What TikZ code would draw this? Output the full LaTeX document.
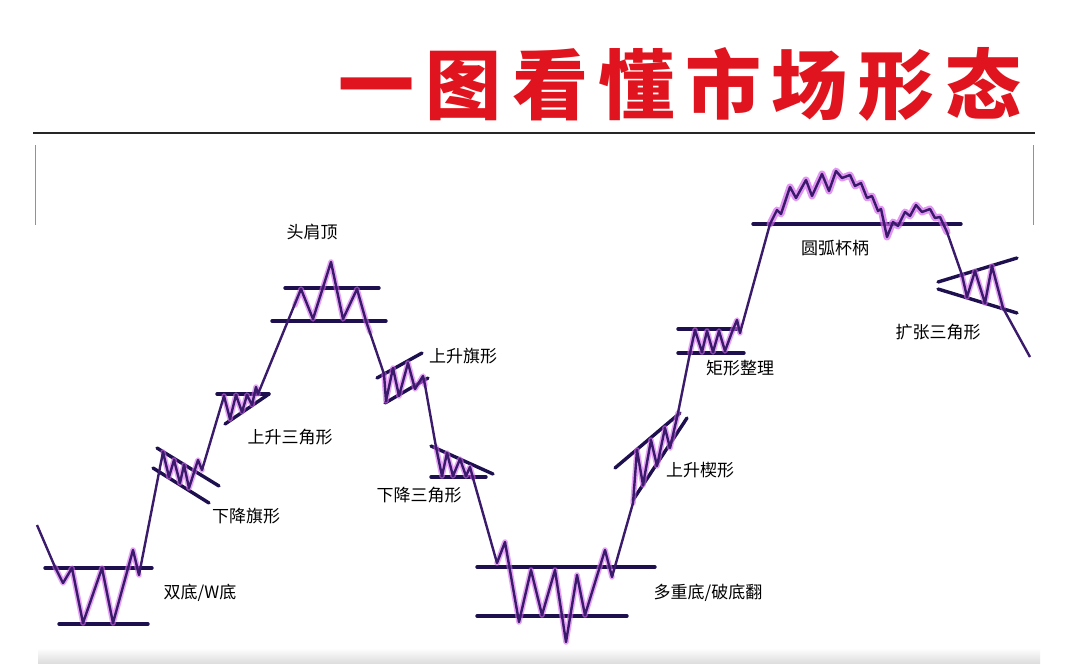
\documentclass[tikz,border=0pt]{standalone}
\usepackage{fontspec}
\newfontfamily\cjk{Noto Sans CJK SC}
\definecolor{titlered}{HTML}{E0141E}
\definecolor{barc}{HTML}{1E104E}
\definecolor{trendc}{HTML}{3A1A6A}
\definecolor{zigc}{HTML}{6A22AE}
\definecolor{glowc}{HTML}{D868F0}
\definecolor{olive}{HTML}{9A9A50}
\tikzset{
  bar/.style={draw=barc, line width=3.4pt, line cap=round},
  trend/.style={draw=trendc, line width=2.4pt, line join=round},
  glow/.style={draw=glowc, line width=5.5pt, opacity=0.6, line join=round, line cap=round},
  lbl/.style={font=\cjk\fontsize{17}{17}\selectfont, text=black, inner sep=0pt}
}
\begin{document}
\begin{tikzpicture}[x=1pt,y=-1pt]
\useasboundingbox (0,0) rectangle (1080,664);
\fill[white] (0,0) rectangle (1080,664);
% title
\node[font=\cjk\bfseries\fontsize{76}{76}\selectfont\addfontfeature{LetterSpace=14}, text=titlered, inner sep=0pt] (title) at (680,84) {一图看懂市场形态};
\draw[line width=2pt, draw=black!85] (33,133) -- (1035,133);
\draw[olive, line width=1pt] (35,145) -- (35,225);
\draw[olive, line width=1pt] (1033,145) -- (1033,225);
\shade[top color=white, bottom color=black!14] (38,648) rectangle (1040,664);

% pattern bars
\draw[bar] (45,568) -- (152,568);
\draw[bar] (59,624) -- (148,624);
\draw[bar] (157,448) -- (219,486);
\draw[bar] (153,468) -- (209,503);
\draw[bar] (217,394) -- (269,394);
\draw[bar] (225,424) -- (269,394);
\draw[bar] (285,288) -- (379,288);
\draw[bar] (272,321) -- (386,321);
\draw[bar] (377,378) -- (422,353);
\draw[bar] (385,403) -- (428,378);
\draw[bar] (431,446) -- (493,474);
\draw[bar] (431,477) -- (486,477);
\draw[bar] (477,567) -- (655,567);
\draw[bar] (477,616) -- (627,616);
\draw[bar] (615,468) -- (680,413);
\draw[bar] (633,500) -- (687,418);
\draw[bar] (678,329) -- (737,329);
\draw[bar] (678,353) -- (744,353);
\draw[bar] (753,224) -- (961,224);
\draw[bar] (938,282) -- (1017,258);
\draw[bar] (938,289) -- (1017,313);

% glows
\draw[glow] (55,567) -- (63,583) -- (72,568) -- (83,623) -- (102,568) -- (113,623) -- (133,550) -- (139,575);
\draw[glow] (163,452) -- (169,477) -- (174,460) -- (180,483) -- (184,465) -- (189,488) -- (198,460) -- (202,470);
\draw[glow] (224,396) -- (230,419) -- (236,395) -- (242,412) -- (247,395) -- (252,405) -- (256,387) -- (258,394);
\draw[glow] (295,305) -- (301,289) -- (313,319) -- (331,262) -- (343,319) -- (357,289) -- (366,321) -- (370,332);
\draw[glow] (384,374) -- (386,401) -- (393,368) -- (399,396) -- (408,363) -- (415,389) -- (423,376) -- (425,385);
\draw[glow] (436,447) -- (442,476) -- (447,453) -- (453,476) -- (460,459) -- (466,476) -- (470,467) -- (473,478);
\draw[glow] (497,563) -- (505,542) -- (519,622) -- (531,570) -- (542,615) -- (555,570) -- (566,642) -- (577,575) -- (585,615) -- (605,550) -- (612,577);
\draw[glow] (633,503) -- (637,450) -- (643,485) -- (651,440) -- (657,466) -- (665,428) -- (670,448) -- (678,413);
\draw[glow] (690,353) -- (695,330) -- (702,352) -- (707,331) -- (713,352) -- (719,331) -- (725,351) -- (732,332) -- (737,320) -- (740,333);
\draw[glow, line width=7pt, opacity=0.7] (770,224) -- (777,210) -- (781,214) -- (790,187) -- (796,198) -- (806,180) -- (812,196) -- (822,174) -- (829,191) -- (836,171) -- (842,178) -- (850,175) -- (855,186) -- (861,183) -- (867,198) -- (872,196) -- (878,211) -- (881,209) -- (887,237) -- (893,222) -- (898,226) -- (905,212) -- (910,216) -- (916,205) -- (922,212) -- (930,209) -- (935,218) -- (940,217) -- (947,232);
\draw[glow] (962,275) -- (967,297) -- (975,271) -- (985,303) -- (992,266) -- (1003,308);

% price path
\draw[trend] (37,525) -- (55,567) -- (63,583) -- (72,568) -- (83,623) -- (102,568) -- (113,623) -- (133,550) -- (139,575)
 -- (163,452) -- (169,477) -- (174,460) -- (180,483) -- (184,465) -- (189,488) -- (198,460) -- (202,470)
 -- (224,396) -- (230,419) -- (236,395) -- (242,412) -- (247,395) -- (252,405) -- (256,387) -- (258,394)
 -- (301,289) -- (313,319) -- (331,262) -- (343,319) -- (357,289) -- (366,321)
 -- (384,374) -- (386,401) -- (393,368) -- (399,396) -- (408,363) -- (415,389) -- (423,376) -- (425,385)
 -- (436,447) -- (442,476) -- (447,453) -- (453,476) -- (460,459) -- (466,476) -- (470,467) -- (473,478)
 -- (497,563) -- (505,542) -- (519,622) -- (531,570) -- (542,615) -- (555,570) -- (566,642) -- (577,575) -- (585,615) -- (605,550) -- (612,577)
 -- (633,503) -- (637,450) -- (643,485) -- (651,440) -- (657,466) -- (665,428) -- (670,448) -- (678,413)
 -- (690,353) -- (695,330) -- (702,352) -- (707,331) -- (713,352) -- (719,331) -- (725,351) -- (732,332) -- (737,320) -- (740,333)
 -- (770,224) -- (777,210) -- (781,214) -- (790,187) -- (796,198) -- (806,180) -- (812,196) -- (822,174) -- (829,191) -- (836,171) -- (842,178) -- (850,175) -- (855,186) -- (861,183) -- (867,198) -- (872,196) -- (878,211) -- (881,209) -- (887,237) -- (893,222) -- (898,226) -- (905,212) -- (910,216) -- (916,205) -- (922,212) -- (930,209) -- (935,218) -- (940,217) -- (947,232)
 -- (962,275) -- (967,297) -- (975,271) -- (985,303) -- (992,266) -- (1003,308) -- (1030,357);

% labels
\node[lbl] (hs) at (312,232) {头肩顶};
\node[lbl] (asc) at (290,437) {上升三角形};
\node[lbl] (dflag) at (246,516) {下降旗形};
\node[lbl] (uflag) at (463,356) {上升旗形};
\node[lbl] (dtri) at (419,495) {下降三角形};
\node[lbl] (wb) at (200,593) {双底/W底};
\node[lbl] (mb) at (708,593) {多重底/破底翻};
\node[lbl] (wedge) at (700,470) {上升楔形};
\node[lbl] (rect) at (740,368) {矩形整理};
\node[lbl] (cup) at (835,248) {圆弧杯柄};
\node[lbl] (exp) at (938,332) {扩张三角形};
\end{tikzpicture}
\end{document}
